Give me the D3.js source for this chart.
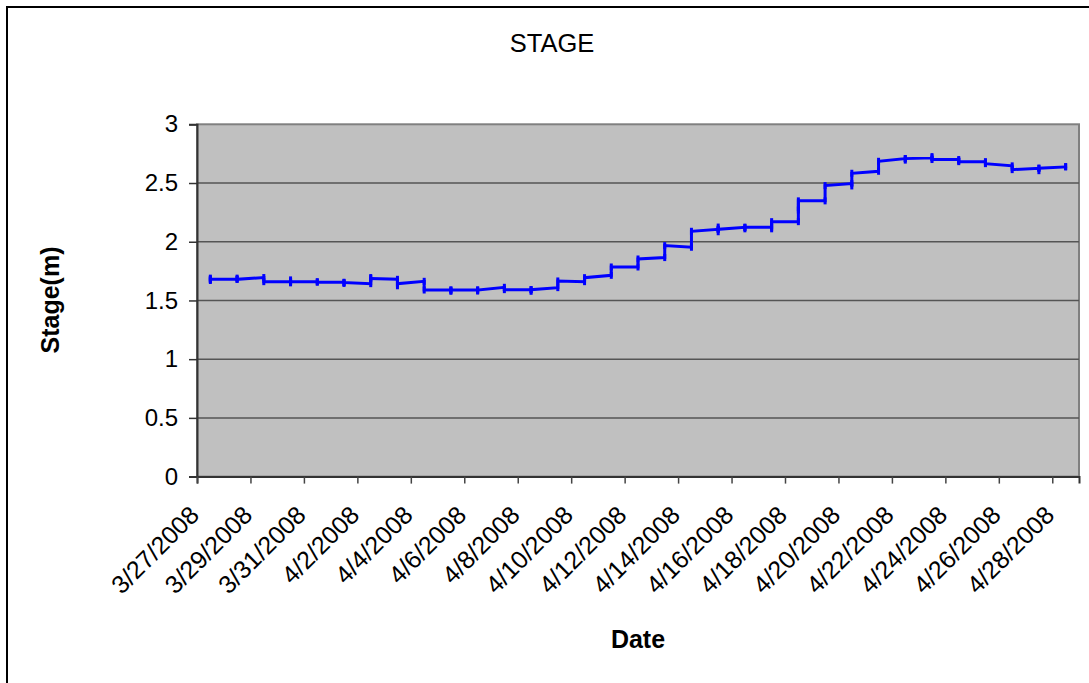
<!DOCTYPE html>
<html>
<head>
<meta charset="utf-8">
<script src="https://cdn.jsdelivr.net/npm/d3@7/dist/d3.min.js"></script>
<style>
  html, body { margin: 0; padding: 0; background: #fff; }
  svg { display: block; font-family: "Liberation Sans", Arial, sans-serif; }
</style>
</head>
<body>
<svg id="chart" width="1089" height="683"></svg>
<script>
// Daily dates of the stage record (one slot per day)
const days = [
  "3/27/2008","3/28/2008","3/29/2008","3/30/2008","3/31/2008",
  "4/1/2008","4/2/2008","4/3/2008","4/4/2008","4/5/2008","4/6/2008",
  "4/7/2008","4/8/2008","4/9/2008","4/10/2008","4/11/2008","4/12/2008",
  "4/13/2008","4/14/2008","4/15/2008","4/16/2008","4/17/2008","4/18/2008",
  "4/19/2008","4/20/2008","4/21/2008","4/22/2008","4/23/2008","4/24/2008",
  "4/25/2008","4/26/2008","4/27/2008","4/28/2008"
];

// Stage readings (m) taken during each day, in order
const stage = [
  [1.68, 1.69, 1.67, 1.68],
  [1.68, 1.69, 1.68],
  [1.695, 1.66],
  [1.66, 1.675, 1.65, 1.66],
  [1.66, 1.655],
  [1.655, 1.645, 1.652],
  [1.643, 1.695, 1.686],
  [1.68, 1.625, 1.643],
  [1.663, 1.589],
  [1.589, 1.578, 1.589],
  [1.589, 1.58, 1.589],
  [1.612, 1.592],
  [1.592, 1.578, 1.592],
  [1.609, 1.666],
  [1.66, 1.694],
  [1.714, 1.785],
  [1.785, 1.853],
  [1.865, 1.967],
  [1.953, 2.089],
  [2.106, 2.085, 2.125, 2.106],
  [2.123, 2.11, 2.123],
  [2.123, 2.11, 2.171],
  [2.171, 2.27, 2.29, 2.348],
  [2.348, 2.478],
  [2.495, 2.475, 2.583],
  [2.600, 2.685],
  [2.708, 2.695, 2.708],
  [2.714, 2.725, 2.700],
  [2.700, 2.69, 2.682],
  [2.682, 2.67, 2.665],
  [2.646, 2.614],
  [2.626, 2.605, 2.626],
  [2.637, 2.64]
];

const yTicks = [0, 0.5, 1, 1.5, 2, 2.5, 3];

const parse = d3.utcParse("%m/%d/%Y");
const fmt = d3.utcFormat("%-m/%-d/%Y");
const dayDates = days.map(parse);

// Flatten readings: every reading of a day sits at that day's slot centre
const points = [];
dayDates.forEach((d, i) => {
  stage[i].forEach(v => points.push({ date: d3.utcHour.offset(d, 12), value: v }));
});

const svg = d3.select("#chart");
const plot = { left: 197, right: 1079, top: 124.3, bottom: 476.6 };

const x = d3.scaleUtc()
  .domain([dayDates[0], d3.utcDay.offset(dayDates[dayDates.length - 1], 1)])
  .range([plot.left, plot.right]);
const y = d3.scaleLinear().domain([0, 3]).range([plot.bottom, plot.top]);

// Chart area frame
svg.append("rect")
  .attr("x", 7).attr("y", 7).attr("width", 1100).attr("height", 700)
  .attr("fill", "#fff").attr("stroke", "#000").attr("stroke-width", 2);

// Plot area
svg.append("rect")
  .attr("x", plot.left).attr("y", plot.top)
  .attr("width", plot.right - plot.left).attr("height", plot.bottom - plot.top)
  .attr("fill", "#c0c0c0").attr("stroke", "#808080").attr("stroke-width", 2);

// Horizontal gridlines
svg.append("g").selectAll("line")
  .data(yTicks.filter(t => t > 0 && t < 3))
  .join("line")
  .attr("x1", plot.left).attr("x2", plot.right)
  .attr("y1", d => y(d)).attr("y2", d => y(d))
  .attr("stroke", "#555").attr("stroke-width", 1.5);

// Y axis
const yAxis = svg.append("g")
  .attr("transform", `translate(${plot.left},0)`)
  .call(d3.axisLeft(y).tickValues(yTicks).tickFormat(d3.format("")).tickSize(8).tickPadding(11));
yAxis.select(".domain").attr("stroke", "#333").attr("stroke-width", 2);
yAxis.selectAll(".tick line").attr("stroke", "#333").attr("stroke-width", 1.5);
yAxis.selectAll(".tick text")
  .attr("font-size", 24).attr("fill", "#000")
  .attr("font-family", "'Liberation Sans', Arial, sans-serif");

// X axis: a tick every second day
const xTickDates = dayDates.filter((d, i) => i % 2 === 0);
const xAxis = svg.append("g")
  .attr("transform", `translate(0,${plot.bottom})`)
  .call(d3.axisBottom(x).tickValues(xTickDates).tickFormat(fmt).tickSizeOuter(0).tickSize(7));
xAxis.select(".domain").attr("stroke", "#333").attr("stroke-width", 2);
xAxis.selectAll(".tick line").attr("stroke", "#444").attr("stroke-width", 1.5);
xAxis.selectAll(".tick text")
  .attr("font-size", 25).attr("fill", "#000")
  .attr("font-family", "'Liberation Sans', Arial, sans-serif")
  .attr("text-anchor", "end")
  .attr("x", 0).attr("y", 0).attr("dy", 0)
  .attr("transform", "translate(3,40) rotate(-45)");

// Stage line
const line = d3.line().x(d => x(d.date)).y(d => y(d.value));
svg.append("path")
  .datum(points)
  .attr("d", line)
  .attr("fill", "none")
  .attr("stroke", "#0000ff")
  .attr("stroke-width", 3)
  .attr("stroke-linejoin", "miter");

// Reading markers
svg.append("g").selectAll("rect")
  .data(points)
  .join("rect")
  .attr("x", d => x(d.date) - 1.5)
  .attr("y", d => y(d.value) - 3.5)
  .attr("width", 3).attr("height", 7)
  .attr("fill", "#0000ff");

// Titles
svg.append("text")
  .attr("x", 552).attr("y", 52)
  .attr("text-anchor", "middle")
  .attr("font-size", 25.5)
  .text("STAGE");

svg.append("text")
  .attr("transform", "translate(59,300) rotate(-90)")
  .attr("text-anchor", "middle")
  .attr("font-size", 25).attr("font-weight", "bold")
  .text("Stage(m)");

svg.append("text")
  .attr("x", 638).attr("y", 648)
  .attr("text-anchor", "middle")
  .attr("font-size", 25).attr("font-weight", "bold")
  .text("Date");
</script>
</body>
</html>
